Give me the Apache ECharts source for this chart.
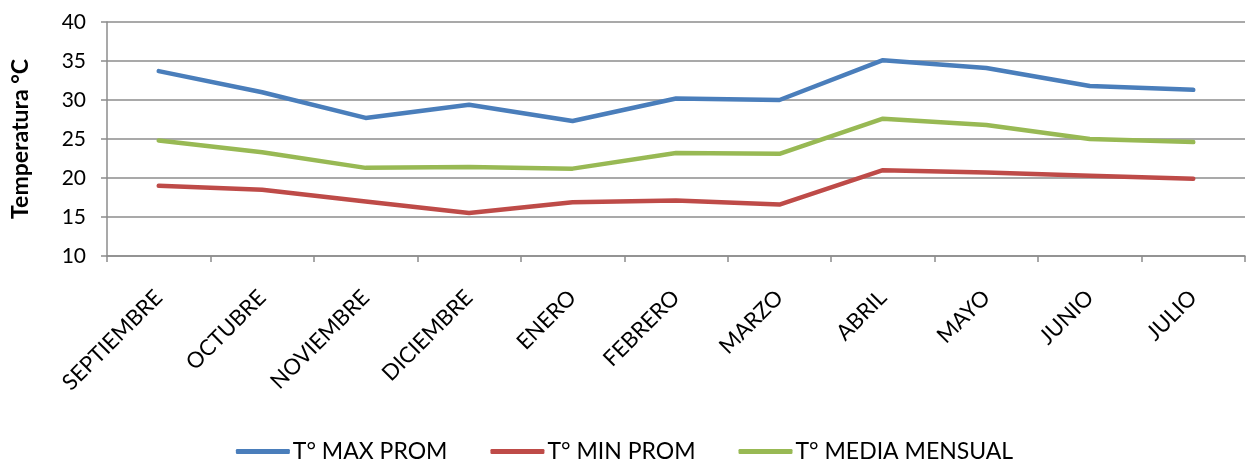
<!DOCTYPE html>
<html>
<head>
<meta charset="utf-8">
<script src="https://cdn.jsdelivr.net/npm/echarts@6/dist/echarts.min.js"></script>
<style>
  html, body { margin: 0; padding: 0; background: #ffffff; }
  #chart { width: 1249px; height: 462px; }
</style>
</head>
<body>
<div id="chart"></div>
<script>
// Monthly temperatures, September to July
const months = ['SEPTIEMBRE', 'OCTUBRE', 'NOVIEMBRE', 'DICIEMBRE', 'ENERO', 'FEBRERO', 'MARZO', 'ABRIL', 'MAYO', 'JUNIO', 'JULIO'];
const tMax = [33.7, 31.0, 27.7, 29.4, 27.3, 30.2, 30.0, 35.1, 34.1, 31.8, 31.3];
const tMin = [19.0, 18.5, 17.0, 15.5, 16.9, 17.1, 16.6, 21.0, 20.7, 20.3, 19.9];
const tMedia = [24.8, 23.3, 21.3, 21.4, 21.2, 23.2, 23.1, 27.6, 26.8, 25.0, 24.6];
const seriesNames = ['T° MAX PROM', 'T° MIN PROM', 'T° MEDIA MENSUAL'];
const seriesColors = ['#4a7ebb', '#be4b48', '#98b954'];

const font = 'Lato, "Open Sans", sans-serif';
const gridColor = '#8c8c8c';

const chart = echarts.init(document.getElementById('chart'), null, { renderer: 'canvas' });

const lineSeries = [tMax, tMin, tMedia].map((values, i) => ({
  name: seriesNames[i],
  type: 'line',
  data: values,
  symbol: 'none',
  smooth: false,
  lineStyle: { width: 4.5, color: seriesColors[i], cap: 'round', join: 'round' },
  itemStyle: { color: seriesColors[i] }
}));

chart.setOption({
  animation: false,
  backgroundColor: '#ffffff',
  grid: { left: 107, right: 4, top: 22, bottom: 206, containLabel: false },
  legend: {
    top: 435,
    left: 'center',
    itemWidth: 54,
    itemHeight: 5,
    itemGap: 43,
    icon: 'roundRect',
    textStyle: { fontFamily: font, fontSize: 23, color: '#000000', padding: [0, 0, 0, -2] },
    data: seriesNames
  },
  xAxis: {
    type: 'category',
    data: months,
    boundaryGap: true,
    axisLine: { lineStyle: { color: gridColor, width: 1.5 } },
    axisTick: { show: true, length: 6, lineStyle: { color: gridColor, width: 1.5 } },
    axisLabel: {
      rotate: 45,
      interval: 0,
      margin: 38,
      fontFamily: font,
      fontSize: 22,
      color: '#000000'
    },
    splitLine: { show: false }
  },
  yAxis: {
    type: 'value',
    min: 10,
    max: 40,
    interval: 5,
    name: 'Temperatura °C',
    nameLocation: 'middle',
    nameGap: 75,
    nameTextStyle: { fontFamily: font, fontSize: 23, fontWeight: 'bold', color: '#000000' },
    axisLine: { show: true, lineStyle: { color: gridColor, width: 1.5 } },
    axisTick: { show: true, length: 6, inside: false, lineStyle: { color: gridColor, width: 1.5 } },
    axisLabel: { fontFamily: font, fontSize: 21, color: '#000000', margin: 21 },
    splitLine: { show: true, lineStyle: { color: gridColor, width: 1.5 } }
  },
  series: lineSeries
});
</script>
</body>
</html>
